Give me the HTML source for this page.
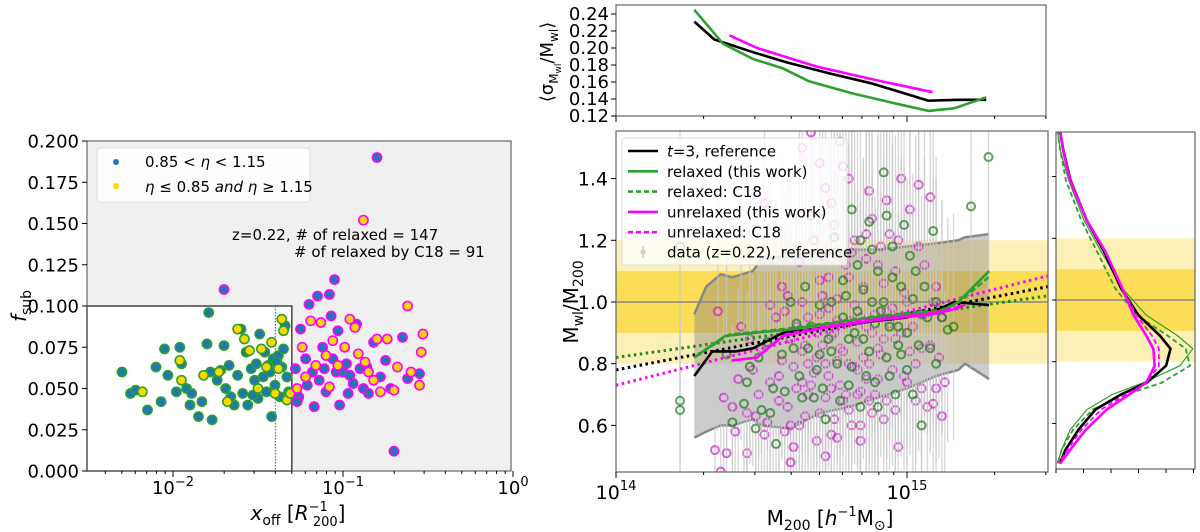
<!DOCTYPE html>
<html><head><meta charset="utf-8"><style>
html,body{margin:0;padding:0;background:#fff;}
svg{display:block;font-family:"DejaVu Sans","Liberation Sans",sans-serif;}
</style></head><body>
<svg id="fig" width="1200" height="532" viewBox="0 0 1200 532" xmlns="http://www.w3.org/2000/svg"></svg>
<script>
// ---------- LEFT PANEL DATA (log10 xoff, fsub) ----------
const relaxedBlue=[[-2.30,.060],[-2.25,.047],[-2.22,.049],[-2.15,.037],[-2.10,.063],[-2.07,.042],[-2.05,.074],[-2.03,.058],[-1.98,.048],[-1.96,.075],[-1.95,.065],[-1.92,.050],[-1.90,.040],[-1.89,.047],[-1.85,.033],[-1.83,.042],[-1.80,.077],[-1.79,.096],[-1.78,.060],[-1.77,.031],[-1.74,.055],[-1.72,.061],[-1.70,.076],[-1.69,.050],[-1.67,.064],[-1.66,.045],[-1.64,.040],[-1.62,.058],[-1.60,.086],[-1.59,.047],[-1.57,.072],[-1.56,.040],[-1.54,.062],[-1.52,.055],[-1.51,.065],[-1.50,.044],[-1.49,.083],[-1.47,.057],[-1.46,.072],[-1.45,.048],[-1.43,.060],[-1.42,.033],[-1.41,.068],[-1.40,.052],[-1.38,.070],[-1.37,.045],[-1.36,.063],[-1.34,.088],[-1.33,.057],[-1.32,.048],[-1.39,.066],[-1.44,.064],[-1.53,.046],[-1.35,.074]];
const relaxedYellow=[[-2.18,.048],[-1.96,.067],[-1.95,.055],[-1.82,.058],[-1.73,.060],[-1.68,.042],[-1.62,.086],[-1.58,.080],[-1.55,.073],[-1.50,.050],[-1.48,.074],[-1.45,.063],[-1.42,.078],[-1.40,.047],[-1.38,.062],[-1.36,.092],[-1.35,.085],[-1.33,.043],[-1.31,.047]];
const unrelaxedBlue=[[-1.70,.110],[-1.28,.062],[-1.26,.045],[-1.25,.086],[-1.22,.068],[-1.20,.101],[-1.18,.060],[-1.17,.039],[-1.15,.106],[-1.14,.055],[-1.12,.075],[-1.10,.048],[-1.08,.107],[-1.07,.094],[-1.06,.068],[-1.05,.116],[-1.04,.060],[-1.03,.085],[-1.02,.040],[-1.00,.060],[-0.98,.065],[-0.96,.058],[-0.94,.053],[-0.92,.089],[-0.90,.062],[-0.88,.050],[-0.86,.063],[-0.85,.047],[-0.82,.078],[-0.80,.190],[-0.78,.057],[-0.75,.067],[-0.72,.050],[-0.70,.012],[-0.65,.081],[-0.62,.056],[-0.55,.059],[-1.27,.042],[-1.21,.052],[-1.11,.062],[-0.97,.047]];
const unrelaxedYellow=[[-1.27,.050],[-1.24,.075],[-1.22,.057],[-1.19,.091],[-1.16,.064],[-1.13,.090],[-1.10,.070],[-1.08,.051],[-1.06,.079],[-1.03,.064],[-0.99,.075],[-0.96,.092],[-0.93,.087],[-0.91,.071],[-0.88,.152],[-0.87,.066],[-0.85,.060],[-0.82,.055],[-0.80,.080],[-0.78,.048],[-0.74,.080],[-0.70,.049],[-0.68,.063],[-0.62,.100],[-0.60,.060],[-0.55,.052],[-0.54,.072],[-0.53,.083]];
const leftYTicks=[0,0.025,0.05,0.075,0.1,0.125,0.15,0.175,0.2];
const leftYTickLabels=["0.000","0.025","0.050","0.075","0.100","0.125","0.150","0.175","0.200"];
const leftXTickExp=[-2,-1,0];

// ---------- TOP PANEL DATA (log10 M200, sigma ratio) ----------
const topBlackM=[14.269,14.338,14.471,14.588,14.735,14.882,15.074,15.176,15.272];
const topBlackS=[0.231,0.210,0.195,0.183,0.170,0.158,0.138,0.139,0.139];
const topGreenM=[14.269,14.368,14.471,14.574,14.662,14.809,14.956,15.074,15.162,15.272];
const topGreenS=[0.245,0.205,0.187,0.176,0.161,0.147,0.135,0.126,0.129,0.142];
const topMagM=[14.390,14.485,14.691,14.882,15.088];
const topMagS=[0.215,0.200,0.178,0.163,0.148];
const topYTicks=[0.12,0.14,0.16,0.18,0.20,0.22,0.24];

// ---------- MAIN PANEL DATA (log10 M200, Mwl/M200) ----------
const magPts=[[14.35,0.97],[14.34,0.52],[14.36,0.45],[14.37,0.69],[14.38,0.51],[14.40,0.66],[14.41,0.58],[14.43,0.92],[14.45,0.64],[14.47,0.78],[14.48,0.63],[14.50,0.85],[14.51,1.32],[14.52,0.61],[14.53,0.74],[14.55,0.95],[14.56,0.68],[14.57,0.81],[14.58,0.58],[14.59,1.02],[14.60,0.88],[14.61,0.53],[14.62,0.72],[14.63,1.13],[14.64,0.84],[14.65,0.63],[14.66,0.95],[14.67,1.55],[14.68,0.77],[14.69,0.55],[14.70,1.07],[14.71,0.86],[14.72,0.69],[14.73,0.98],[14.74,0.57],[14.75,1.25],[14.76,0.81],[14.77,0.73],[14.78,1.44],[14.79,0.93],[14.80,0.65],[14.81,1.16],[14.82,0.79],[14.83,0.87],[14.84,0.60],[14.85,1.05],[14.86,0.75],[14.87,1.36],[14.88,0.90],[14.89,0.70],[14.90,1.12],[14.91,0.83],[14.92,0.62],[14.93,0.97],[14.94,1.22],[14.95,0.78],[14.96,0.88],[14.97,0.53],[14.98,1.40],[14.99,1.03],[15.00,0.74],[15.01,1.30],[15.02,0.92],[15.03,0.68],[15.04,1.18],[15.05,0.85],[15.06,0.96],[15.07,0.66],[15.08,1.34],[15.09,1.00],[15.10,0.72],[15.12,0.95],[14.62,0.92],[14.66,0.80],[14.70,0.96],[14.74,0.89],[14.78,0.84],[14.82,0.99],[14.86,0.92],[14.90,0.85],[14.94,0.93],[14.68,1.20],[14.72,1.37],[14.76,1.01],[14.80,1.08],[14.84,0.71],[14.88,1.27],[14.92,1.06],[14.96,1.10],[14.64,0.74],[14.58,0.97],[14.54,0.88],[14.77,1.52],[15.09,0.67],[15.12,0.63],[15.13,0.74],[14.45,0.51],[14.60,0.48],[14.72,0.50],[14.69,0.82],[14.73,0.76],[14.79,0.70],[14.83,0.78],[14.87,0.68],[14.66,0.70],[14.75,0.90],[14.81,0.94],[14.71,1.02],
[14.42,0.75],[14.46,0.88],[14.49,0.70],[14.51,0.57],[14.53,0.99],[14.56,0.76],[14.57,1.05],[14.59,0.66],[14.61,0.79],[14.63,0.60],[14.64,1.00],[14.65,0.86],[14.67,0.73],[14.67,1.28],[14.69,0.90],[14.70,0.64],[14.71,1.15],[14.72,0.80],[14.73,1.08],[14.74,0.72],[14.75,0.62],[14.76,0.94],[14.77,0.85],[14.78,0.68],[14.79,1.12],[14.80,0.80],[14.81,0.60],[14.82,1.20],[14.83,0.70],[14.84,0.95],[14.85,0.82],[14.86,1.14],[14.87,0.80],[14.88,0.64],[14.89,0.96],[14.90,0.75],[14.91,1.18],[14.92,0.88],[14.93,0.68],[14.95,0.98],[14.96,0.65],[14.97,1.20],[14.98,0.90],[14.99,0.76],[15.00,1.00],[15.01,0.84],[15.03,0.80],[15.04,1.38],[15.05,0.72],[15.06,1.12],[15.08,0.86],[15.10,1.05],[15.11,0.82],[14.74,1.32],[14.80,1.40],[14.86,1.22],[14.70,1.45],[14.64,1.50],[14.93,1.33],[14.60,0.60],[14.76,0.56],[14.84,0.55]];
const greenPts=[[14.22,0.68],[14.22,0.65],[14.22,1.18],[14.38,0.83],[14.40,0.61],[14.44,0.67],[14.46,0.79],[14.48,0.59],[14.50,0.65],[14.52,0.87],[14.54,0.72],[14.55,0.54],[14.57,0.83],[14.60,1.00],[14.62,0.93],[14.63,0.76],[14.65,1.05],[14.66,0.85],[14.68,0.69],[14.70,0.99],[14.72,0.62],[14.73,0.88],[14.75,1.21],[14.76,0.80],[14.78,0.95],[14.80,0.73],[14.81,1.30],[14.82,0.90],[14.84,0.66],[14.85,1.04],[14.87,0.84],[14.88,1.17],[14.89,0.74],[14.91,0.97],[14.92,1.42],[14.93,0.82],[14.95,1.08],[14.96,0.70],[14.97,0.92],[14.99,1.25],[15.00,0.78],[15.02,1.01],[15.04,0.86],[15.05,0.60],[15.07,0.95],[15.09,1.23],[15.10,0.80],[15.12,0.95],[15.14,0.91],[15.16,0.92],[15.22,1.31],[15.28,1.47],[14.80,0.88],[14.83,0.97],[14.86,0.76],[14.90,1.10],[14.94,0.92],[14.98,0.83],[14.70,0.83],[14.74,1.00],[14.78,1.07],[15.01,1.15],[15.06,1.05],[14.88,1.00],
[14.45,0.74],[14.49,0.82],[14.53,0.64],[14.58,0.71],[14.61,0.85],[14.64,0.69],[14.67,0.92],[14.69,0.78],[14.71,0.72],[14.74,0.84],[14.77,0.68],[14.79,1.02],[14.81,0.79],[14.83,1.12],[14.85,0.88],[14.87,1.26],[14.89,0.93],[14.90,0.66],[14.92,1.00],[14.94,0.76],[14.95,1.18],[14.97,0.86],[14.98,1.05],[15.00,0.90],[15.02,0.70],[15.03,1.10],[15.05,0.96],[15.08,0.85],[15.10,1.00],[14.76,1.16],[14.84,1.20],[14.93,1.28]];
const bandM=[14.269,14.31,14.36,14.40,14.47,14.50,14.6,14.7,14.8,14.9,15.0,15.1,15.176,15.2,15.282];
const bandUpper=[0.96,1.05,1.09,1.08,1.10,1.14,1.15,1.16,1.17,1.17,1.18,1.19,1.20,1.21,1.22];
const bandLower=[0.56,0.58,0.60,0.60,0.62,0.60,0.59,0.64,0.66,0.69,0.72,0.76,0.78,0.80,0.75];
const refM=[14.269,14.331,14.412,14.471,14.574,14.662,14.809,15.0,15.118,15.162,15.282];
const refR=[0.76,0.84,0.84,0.85,0.90,0.91,0.93,0.95,0.98,1.0,0.99];
const relM=[14.269,14.375,14.471,14.588,14.735,14.882,15.118,15.176,15.282];
const relR=[0.82,0.89,0.90,0.91,0.93,0.95,0.97,1.0,1.10];
const relC18M=[14.30,14.39,14.50,14.60,14.75,14.90,15.12,15.18,15.28];
const relC18R=[0.84,0.895,0.905,0.915,0.935,0.955,0.975,1.0,1.08];
const unrelM=[14.397,14.485,14.574,14.735,14.882,15.088,15.176,15.191];
const unrelR=[0.81,0.82,0.89,0.92,0.94,0.96,0.98,0.99];
const unrelC18M=[14.58,14.74,14.88,15.09,15.18,15.20];
const unrelC18R=[0.895,0.925,0.945,0.965,0.985,0.99];
const fitEndsM=[14.0,15.485];
const fitBlackR=[0.78,1.05];
const fitGreenR=[0.82,1.02];
const fitMagR=[0.73,1.085];
const mainYTicks=[0.6,0.8,1.0,1.2,1.4];

// ---------- RIGHT PANEL DATA (ratio, density fraction) ----------
const pdfR=[1.552,1.486,1.388,1.257,1.158,1.038,0.951,0.885,0.842,0.787,0.732,0.694,0.645,0.579,0.514,0.470];
const pdfBlack=[0.027,0.052,0.103,0.219,0.340,0.462,0.584,0.736,0.812,0.781,0.644,0.462,0.280,0.158,0.067,0.027];
const pdfMag=[0.03,0.05,0.10,0.22,0.35,0.47,0.55,0.64,0.69,0.70,0.64,0.52,0.36,0.21,0.10,0.03];
const pdfMagC18=[0.03,0.05,0.10,0.22,0.35,0.47,0.57,0.68,0.73,0.73,0.64,0.50,0.32,0.18,0.08,0.02];
const pdfGreen=[0.01,0.03,0.09,0.20,0.32,0.47,0.64,0.86,0.97,0.88,0.62,0.40,0.22,0.10,0.04,0.01];
const pdfGreenC18=[0.01,0.03,0.07,0.18,0.29,0.42,0.57,0.79,0.92,0.95,0.75,0.50,0.26,0.12,0.04,0.01];

// ---------- SCALES ----------
const lxL=l=>173+(l+2)*170, lyL=f=>471-f/0.2*330;
const mx=l=>616+(l-14)*291, my=r=>302-(r-1)*308.5;
const ty=s=>116-(s-0.12)*850;
const rx=d=>1056+d*141, ry=r=>300-(r-1)*308.5;

const NS="http://www.w3.org/2000/svg";
const svg=document.getElementById('fig');
function mk(tag,attrs,parent){const e=document.createElementNS(NS,tag);for(const k in attrs)e.setAttribute(k,attrs[k]);(parent||svg).appendChild(e);return e;}
function txt(x,y,s,size,anchor,parent){const t=mk('text',{x:x,y:y,'font-size':size,'text-anchor':anchor||'middle',fill:'#000'},parent);t.textContent=s;return t;}
function poly(xs,ys,fx,fy){return xs.map((v,i)=>fx(v).toFixed(1)+','+fy(ys[i]).toFixed(1)).join(' ');}

// ================= LEFT PANEL =================
const gL=mk('g',{});


const clipL=mk('clipPath',{id:'clipL'});mk('rect',{x:87,y:141,width:424,height:330},clipL);
const bgL=mk('rect',{x:87,y:141,width:424,height:330,fill:'#f0f0f0'},gL);

const boxW=lxL(Math.log10(0.05))-87;
const relBox=mk('rect',{x:87,y:lyL(0.1),width:boxW,height:471-lyL(0.1),fill:'#fff',stroke:'#444','stroke-width':1.5},gL);

const dotL=mk('line',{x1:lxL(Math.log10(0.04)),x2:lxL(Math.log10(0.04)),y1:lyL(0.1),y2:471,stroke:'#555','stroke-width':1,'stroke-dasharray':'1.5,1.5'},gL);

function leftPts(arr,fill,edge,name){const g=mk('g',{'clip-path':'url(#clipL)'},gL);
 
 arr.forEach(p=>{const c=mk('circle',{cx:lxL(p[0]),cy:lyL(p[1]),r:4.6,fill:fill,stroke:edge,'stroke-width':1.6},g);
 });}
leftPts(relaxedBlue,'#1f77b4','#2ca02c','relaxed-blue-points');
leftPts(relaxedYellow,'#ffd700','#2ca02c','relaxed-yellow-points');
leftPts(unrelaxedBlue,'#1f77b4','#ff00ff','unrelaxed-blue-points');
leftPts(unrelaxedYellow,'#ffd700','#ff00ff','unrelaxed-yellow-points');
mk('rect',{x:87,y:141,width:424,height:330,fill:'none',stroke:'#666','stroke-width':1.2},gL);
leftYTicks.forEach((v,i)=>{mk('line',{x1:82,x2:87,y1:lyL(v),y2:lyL(v),stroke:'#000'},gL);
 const t=txt(79,lyL(v)+6.5,leftYTickLabels[i],18,'end',gL);});
for(let d=-3;d<0;d++){for(let k=2;k<10;k++){const l=d+Math.log10(k);const x=lxL(l);if(x>87&&x<511)mk('line',{x1:x,x2:x,y1:471,y2:474,stroke:'#000'},gL);}}
leftXTickExp.forEach(e=>{const x=lxL(e);mk('line',{x1:x,x2:x,y1:471,y2:477,stroke:'#000'},gL);
 const t=mk('text',{x:x,y:494,'font-size':18,'text-anchor':'middle'},gL);
 t.innerHTML='10<tspan dy="-8" font-size="13">'+(e<0?'−':'')+Math.abs(e)+'</tspan>';});
const legL=mk('g',{},gL);
mk('rect',{x:97,y:148,width:213,height:54,rx:3,fill:'#fff','fill-opacity':0.85,stroke:'#ddd'},legL);
mk('circle',{cx:116,cy:162,r:3,fill:'#1f77b4'},legL);
mk('circle',{cx:116,cy:186,r:3,fill:'#ffd700'},legL);
let t1=mk('text',{x:145,y:167,'font-size':15},legL);t1.innerHTML='0.85 &lt; <tspan font-style="italic">η</tspan> &lt; 1.15';

let t2=mk('text',{x:145,y:192,'font-size':15},legL);t2.innerHTML='<tspan font-style="italic">η</tspan> ≤ 0.85 <tspan font-style="italic">and η</tspan> ≥ 1.15';

let a1=txt(232,240,'z=0.22, # of relaxed = 147',15,'start',gL);
let a2=txt(294,257,'# of relaxed by C18 = 91',15,'start',gL);
let xl=mk('text',{x:298,y:520,'font-size':20,'text-anchor':'middle'},gL);
xl.innerHTML='<tspan font-style="italic">x</tspan><tspan dy="5" font-size="14">off</tspan><tspan dy="-5"> [</tspan><tspan font-style="italic">R</tspan><tspan dy="-9" font-size="13">−1</tspan><tspan dx="-15" dy="15" font-size="13">200</tspan><tspan dy="-6">]</tspan>';

let yl=mk('text',{x:0,y:0,'font-size':20,'text-anchor':'middle',transform:'translate(26,306) rotate(-90)'},gL);
yl.innerHTML='<tspan font-style="italic">f</tspan><tspan dy="5" font-size="14">sub</tspan>';


// ================= TOP PANEL =================
const gT=mk('g',{});
mk('rect',{x:616,y:5,width:430,height:111,fill:'#fff',stroke:'#666','stroke-width':1.2},gT);
function line(parent,xs,ys,fx,fy,color,w,dash,name){const p=mk('polyline',{points:poly(xs,ys,fx,fy),fill:'none',stroke:color,'stroke-width':w,'stroke-linejoin':'round'},parent);
 if(dash)p.setAttribute('stroke-dasharray',dash);return p;}
line(gT,topBlackM,topBlackS,mx,ty,'#000',2.6,null,'top-line-reference');
line(gT,topGreenM,topGreenS,mx,ty,'#2ca02c',2.6,null,'top-line-relaxed');
line(gT,topMagM,topMagS,mx,ty,'#ff00ff',2.6,null,'top-line-unrelaxed');
topYTicks.forEach(v=>{mk('line',{x1:611,x2:616,y1:ty(v),y2:ty(v),stroke:'#000'},gT);
 const t=txt(609,ty(v)+6,v.toFixed(2),18,'end',gT);});
function logTicks(parent,yb,sign){for(let d=14;d<16;d++){for(let k=1;k<10;k++){const x=mx(d+Math.log10(k));if(x>=616&&x<=1047)mk('line',{x1:x,x2:x,y1:yb,y2:yb+(k==1?6:3)*sign,stroke:'#000'},parent);}}}
logTicks(gT,116,1);
let tyl=mk('text',{x:0,y:0,'font-size':18,'text-anchor':'middle',transform:'translate(553,62) rotate(-90)'},gT);
tyl.innerHTML='⟨σ<tspan dy="5" font-size="12">M</tspan><tspan dy="3" font-size="9">wl</tspan><tspan dy="-8">/M</tspan><tspan dy="5" font-size="12">wl</tspan><tspan dy="-5">⟩</tspan>';


// ================= MAIN PANEL =================
const gM=mk('g',{});
const clipM=mk('clipPath',{id:'clipM'});mk('rect',{x:616,y:131,width:432,height:341},clipM);
const gMc=mk('g',{'clip-path':'url(#clipM)'},gM);
let b1=mk('rect',{x:616,y:my(1.2),width:432,height:my(0.8)-my(1.2),fill:'#fdf0b6'},gMc);
let b2=mk('rect',{x:616,y:my(1.1),width:432,height:my(0.9)-my(1.1),fill:'#fbdd58'},gMc);
const bandPts=poly(bandM,bandUpper,mx,my)+' '+poly(bandM.slice().reverse(),bandLower.slice().reverse(),mx,my);
let gb=mk('polygon',{points:bandPts,fill:'#808080','fill-opacity':0.4},gMc);
line(gMc,bandM,bandUpper,mx,my,'#888',2.5,null,'band-upper-edge');
line(gMc,bandM,bandLower,mx,my,'#888',2.5,null,'band-lower-edge');
function mainPts(arr,color,name){const g=mk('g',{},gMc);
 arr.forEach(p=>{const x=mx(p[0]),e=0.4*p[1];
  const eb=mk('line',{x1:x,x2:x,y1:my(p[1]+e),y2:my(p[1]-e),stroke:'#c8c8c8','stroke-width':1.3,'stroke-opacity':0.75},g);
  });
 arr.forEach(p=>{const c=mk('circle',{cx:mx(p[0]),cy:my(p[1]),r:4,fill:'none',stroke:color,'stroke-width':2,'stroke-opacity':0.7},g);
  });}
mainPts(magPts,'#cc22cc','unrelaxed-points');
mainPts(greenPts,'#1e7a1e','relaxed-points');
let hl=mk('line',{x1:616,x2:1048,y1:my(1),y2:my(1),stroke:'#888','stroke-width':1.4},gMc);
line(gMc,fitEndsM,fitGreenR,mx,my,'#1a8a1a',3,'2.5,3.5','fit-relaxed');
line(gMc,fitEndsM,fitBlackR,mx,my,'#000',3,'2.5,3.5','fit-reference');
line(gMc,fitEndsM,fitMagR,mx,my,'#ff00ff',3,'2.5,3.5','fit-unrelaxed');
line(gMc,refM,refR,mx,my,'#000',2.6,null,'line-reference');
line(gMc,relC18M,relC18R,mx,my,'#2ca02c',2.4,'6,3','line-relaxed-c18');
line(gMc,relM,relR,mx,my,'#2ca02c',2.6,null,'line-relaxed');
line(gMc,unrelC18M,unrelC18R,mx,my,'#ff00ff',2.4,'6,3','line-unrelaxed-c18');
line(gMc,unrelM,unrelR,mx,my,'#ff00ff',2.6,null,'line-unrelaxed');
mk('rect',{x:616,y:131,width:432,height:341,fill:'none',stroke:'#666','stroke-width':1.2},gM);
mainYTicks.forEach(v=>{mk('line',{x1:611,x2:616,y1:my(v),y2:my(v),stroke:'#000'},gM);
 const t=txt(608,my(v)+7,v.toFixed(1),19,'end',gM);});
logTicks(gM,472,1);
[14,15].forEach(e=>{const t=mk('text',{x:mx(e),y:499,'font-size':19,'text-anchor':'middle'},gM);
 t.innerHTML='10<tspan dy="-9" font-size="13">'+e+'</tspan>';});
let mxl=mk('text',{x:830,y:525,'font-size':20,'text-anchor':'middle'},gM);
mxl.innerHTML='M<tspan dy="5" font-size="14">200</tspan><tspan dy="-5"> [</tspan><tspan font-style="italic">h</tspan><tspan dy="-9" font-size="13">−1</tspan><tspan dy="9">M</tspan><tspan dy="5" font-size="14">⊙</tspan><tspan dy="-5">]</tspan>';

let myl=mk('text',{x:0,y:0,'font-size':20,'text-anchor':'middle',transform:'translate(578,302) rotate(-90)'},gM);
myl.innerHTML='M<tspan dy="5" font-size="14">wl</tspan><tspan dy="-5">/M</tspan><tspan dy="5" font-size="14">200</tspan>';

const legM=mk('g',{},gM);
mk('rect',{x:622,y:138,width:225,height:127,rx:3,fill:'#fff','fill-opacity':0.8,stroke:'#ddd'},legM);
const legItems=[['#000',null,'<tspan font-style="italic">t</tspan>=3, reference'],['#2ca02c',null,'relaxed (this work)'],['#2ca02c','5,3','relaxed: C18'],['#ff00ff',null,'unrelaxed (this work)'],['#ff00ff','5,3','unrelaxed: C18']];
legItems.forEach((it,i)=>{const y=151+i*20.3;const l=mk('line',{x1:628,x2:658,y1:y,y2:y,stroke:it[0],'stroke-width':2.6},legM);if(it[1])l.setAttribute('stroke-dasharray',it[1]);
 const t=mk('text',{x:667,y:y+5.5,'font-size':15},legM);t.innerHTML=it[2];});
mk('line',{x1:643,x2:643,y1:246,y2:258,stroke:'#ccc','stroke-width':1.5},legM);
mk('circle',{cx:643,cy:252,r:2.5,fill:'#ccc'},legM);
let ld=mk('text',{x:667,y:257.5,'font-size':15},legM);ld.textContent='data (z=0.22), reference';

// ================= RIGHT PANEL =================
const gR=mk('g',{});
const clipR=mk('clipPath',{id:'clipR'});mk('rect',{x:1056,y:132,width:139,height:337},clipR);
const gRc=mk('g',{'clip-path':'url(#clipR)'},gR);
mk('rect',{x:1056,y:ry(1.2),width:139,height:ry(0.8)-ry(1.2),fill:'#fdf0b6'},gRc);
mk('rect',{x:1056,y:ry(1.1),width:139,height:ry(0.9)-ry(1.1),fill:'#fbdd58'},gRc);
mk('line',{x1:1056,x2:1195,y1:ry(1),y2:ry(1),stroke:'#888','stroke-width':1.4},gRc);
function pdf(vals,color,w,dash,name){const p=mk('polyline',{points:poly(vals,pdfR,rx,ry),fill:'none',stroke:color,'stroke-width':w,'stroke-linejoin':'round'},gRc);
 if(dash)p.setAttribute('stroke-dasharray',dash);}
pdf(pdfGreen,'#2ca02c',1.2,null,'pdf-relaxed');
pdf(pdfGreenC18,'#2ca02c',1.8,'5,3','pdf-relaxed-c18');
pdf(pdfBlack,'#000',2.6,null,'pdf-reference');
pdf(pdfMagC18,'#ff00ff',1.8,'5,3','pdf-unrelaxed-c18');
pdf(pdfMag,'#ff00ff',2.6,null,'pdf-unrelaxed');
mk('rect',{x:1056,y:132,width:139,height:337,fill:'none',stroke:'#666','stroke-width':1.2},gR);
mainYTicks.forEach(v=>mk('line',{x1:1052,x2:1056,y1:ry(v),y2:ry(v),stroke:'#000'},gR));
for(let i=0;i<6;i++){const x=rx(i*0.195);mk('line',{x1:x,x2:x,y1:469,y2:473,stroke:'#000'},gR);}
</script>
</body></html>
